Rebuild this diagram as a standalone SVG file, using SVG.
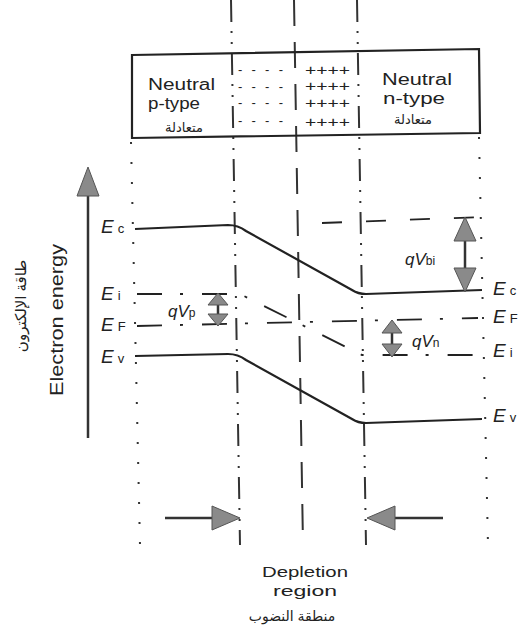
<svg xmlns="http://www.w3.org/2000/svg" width="524" height="631" viewBox="0 0 524 631">
<defs>
<style>
.t{font-family:"Liberation Sans",Arial,sans-serif;fill:#222}
.ar{font-family:"Noto Sans","DejaVu Sans",sans-serif;fill:#222}
.it{font-style:italic}
.ln{stroke:#222;fill:none}
.dot{stroke:#333;stroke-width:2;stroke-dasharray:2 18}
.dd{stroke:#333;stroke-width:2;stroke-dasharray:22 9 2 9 2 9}
.ld{stroke:#333;stroke-width:2;stroke-dasharray:26 16}
.band{stroke:#222;stroke-width:2.2;fill:none}
.lvl{stroke:#222;stroke-width:1.8;fill:none;stroke-dasharray:25 18 3 19}
.head{fill:#8a8a8a;stroke:#555;stroke-width:1}
.shaft{stroke:#333;stroke-width:2.5}
</style>
</defs>
<rect width="524" height="631" fill="#fff"/>

<g id="guides">
<line class="ln dot" x1="131" y1="142" x2="140" y2="545"/>
<line class="ln dd" x1="231" y1="0" x2="240" y2="545"/>
<line class="ln ld" x1="294" y1="0" x2="303" y2="545"/>
<line class="ln dd" x1="357" y1="0" x2="366" y2="545"/>
<line class="ln dot" x1="479" y1="137" x2="488" y2="545"/>
</g>

<g id="box">
<polygon points="132,55 479,49 480,133 132,138" fill="none" stroke="#222" stroke-width="2.2"/>
<text class="t" x="148" y="90" font-size="16" textLength="67" lengthAdjust="spacingAndGlyphs">Neutral</text>
<text class="t" x="148" y="109" font-size="16" textLength="52" lengthAdjust="spacingAndGlyphs">p-type</text>
<text class="ar" x="184" y="132" font-size="13" text-anchor="middle" direction="rtl">متعادلة</text>
<text class="t" x="382" y="85" font-size="16" textLength="70" lengthAdjust="spacingAndGlyphs">Neutral</text>
<text class="t" x="383" y="104" font-size="16" textLength="62" lengthAdjust="spacingAndGlyphs">n-type</text>
<text class="ar" x="413" y="124" font-size="13" text-anchor="middle" direction="rtl">متعادلة</text>
<g class="t" font-size="13">
<text x="238" y="74" textLength="45" lengthAdjust="spacing">- - - -</text>
<text x="238" y="91" textLength="45" lengthAdjust="spacing">- - - -</text>
<text x="238" y="107" textLength="45" lengthAdjust="spacing">- - - -</text>
<text x="238" y="125" textLength="45" lengthAdjust="spacing">- - - -</text>
</g>
<g class="t" font-size="14">
<text x="305" y="75" textLength="45" lengthAdjust="spacingAndGlyphs">++++</text>
<text x="305" y="91" textLength="45" lengthAdjust="spacingAndGlyphs">++++</text>
<text x="305" y="108" textLength="45" lengthAdjust="spacingAndGlyphs">++++</text>
<text x="305" y="127" textLength="45" lengthAdjust="spacingAndGlyphs">++++</text>
</g>
</g>

<g id="axis">
<line class="shaft" x1="88" y1="192" x2="88" y2="438" stroke-width="4"/>
<polygon class="head" points="88,167 99,196 77,196"/>
<text class="t" font-size="18" text-anchor="middle" transform="translate(63,320) rotate(-90)" textLength="152" lengthAdjust="spacingAndGlyphs">Electron energy</text>
<text class="ar" font-size="15" text-anchor="middle" direction="rtl" transform="translate(26,306) rotate(-90)">طاقة الإلكترون</text>
</g>

<g id="bands">
<path class="band" d="M135,229 L228,225 Q238,225 246,231 L352,290 Q358,294 366,294 L482,290"/>
<path class="band" d="M135,356 L228,354 Q238,354 246,360 L352,419 Q358,423 366,423 L482,419"/>
<path class="lvl" d="M137,294 L240,294 L362,355 L478,355"/>
<path class="lvl" d="M137,326 L478,318"/>
<path class="ln" stroke-width="1.8" stroke-dasharray="20 24" d="M322,223 L482,217"/>
</g>

<g id="labels-left" class="t">
<text x="101" y="233"><tspan class="it" font-size="19">E</tspan><tspan dx="4" font-size="13">c</tspan></text>
<text x="101" y="300"><tspan class="it" font-size="19">E</tspan><tspan dx="4" font-size="13">i</tspan></text>
<text x="101" y="331"><tspan class="it" font-size="19">E</tspan><tspan dx="4" font-size="13">F</tspan></text>
<text x="101" y="363"><tspan class="it" font-size="19">E</tspan><tspan dx="4" font-size="13">v</tspan></text>
</g>
<g id="labels-right" class="t">
<text x="493" y="295"><tspan class="it" font-size="19">E</tspan><tspan dx="4" font-size="13">c</tspan></text>
<text x="493" y="323"><tspan class="it" font-size="19">E</tspan><tspan dx="4" font-size="13">F</tspan></text>
<text x="493" y="357"><tspan class="it" font-size="19">E</tspan><tspan dx="4" font-size="13">i</tspan></text>
<text x="493" y="422"><tspan class="it" font-size="19">E</tspan><tspan dx="4" font-size="13">v</tspan></text>
</g>

<g id="qVbi">
<line class="shaft" x1="465" y1="238" x2="465" y2="271"/>
<polygon class="head" points="465,217 476,241 454,241"/>
<polygon class="head" points="465,292 476,268 454,268"/>
<text class="t" x="405" y="265"><tspan class="it" font-size="17">qV</tspan><tspan font-size="12">bi</tspan></text>
</g>
<g id="qVn">
<line class="shaft" x1="392" y1="330" x2="392" y2="347"/>
<polygon class="head" points="392,320 402,333 382,333"/>
<polygon class="head" points="392,357 402,344 382,344"/>
<text class="t" x="412" y="347"><tspan class="it" font-size="17">qV</tspan><tspan font-size="12">n</tspan></text>
</g>
<g id="qVp">
<line class="shaft" x1="218" y1="302" x2="218" y2="317"/>
<polygon class="head" points="218,293 228,305 208,305"/>
<polygon class="head" points="218,326 228,314 208,314"/>
<text class="t" x="168" y="317"><tspan class="it" font-size="17">qV</tspan><tspan font-size="12">p</tspan></text>
</g>

<g id="connectors">
<line class="shaft" x1="165" y1="518" x2="214" y2="518"/>
<polygon class="head" points="240,518 212,506 212,530"/>
<line class="shaft" x1="393" y1="518" x2="443" y2="518"/>
<polygon class="head" points="367,518 395,506 395,530"/>
</g>

<g id="depletion" class="t">
<text x="305" y="577" font-size="15.5" text-anchor="middle" textLength="86" lengthAdjust="spacingAndGlyphs">Depletion</text>
<text x="305" y="596" font-size="15.5" text-anchor="middle" textLength="64" lengthAdjust="spacingAndGlyphs">region</text>
<text class="ar" x="292" y="621" font-size="14" text-anchor="middle" direction="rtl">منطقة النضوب</text>
</g>
</svg>
